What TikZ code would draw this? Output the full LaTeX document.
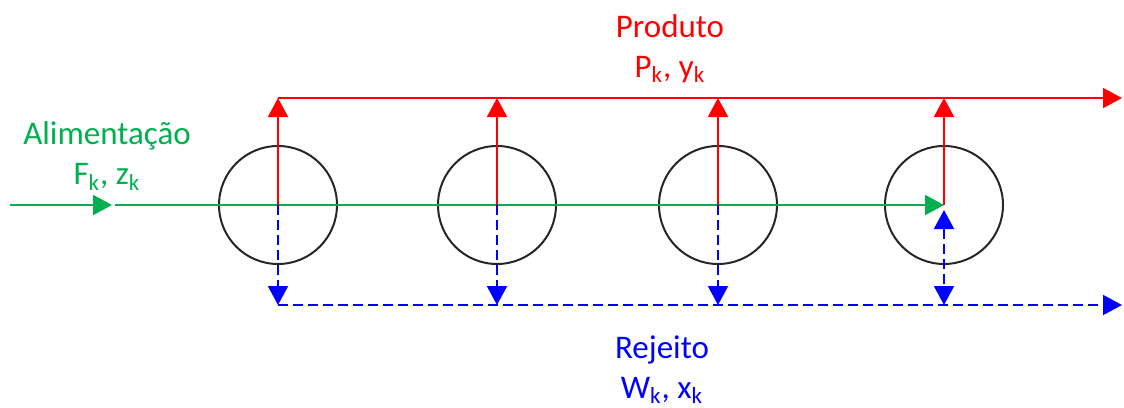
\documentclass[tikz,border=0pt]{standalone}
\usepackage{fontspec}
\setmainfont{Carlito}
\usetikzlibrary{arrows.meta,positioning}
\definecolor{prodred}{RGB}{255,0,0}
\definecolor{feedgreen}{RGB}{0,176,80}
\definecolor{rejblue}{RGB}{0,0,255}
\definecolor{vesselgray}{RGB}{38,38,38}

\begin{document}
\begin{tikzpicture}[x=0.5pt,y=-0.5pt,
    vessel/.style={draw=vesselgray,line width=1pt,circle,minimum size=59pt,inner sep=0pt},
    tip/.style={-{Triangle[length=9.5pt,width=10pt]}},
    twotip/.style={{Triangle[length=9.5pt,width=10pt]}-{Triangle[length=9.5pt,width=10pt]}},
    prodline/.style={prodred,line width=1pt},
    feedline/.style={feedgreen,line width=1pt},
    rejline/.style={rejblue,line width=1pt,dash pattern=on 5pt off 2.5pt},
    lbl/.style={font=\fontsize{16.5}{20}\selectfont,align=center}]
  \useasboundingbox (0,0) rectangle (1124,407);
  % vessels
  \node[vessel] (c1) at (278,205) {};
  \node[vessel] (c2) at (497,205) {};
  \node[vessel] (c3) at (718,205) {};
  \node[vessel] (c4) at (944,205) {};
  % product header and reject header
  \coordinate (p1) at (278,98);
  \coordinate (p2) at (497,98);
  \coordinate (p3) at (718,98);
  \coordinate (p4) at (944,98);
  \coordinate (pend) at (1122,98);
  \coordinate (w1) at (278,305);
  \coordinate (w2) at (497,305);
  \coordinate (w3) at (718,305);
  \coordinate (w4) at (944,305);
  \coordinate (wend) at (1122,305);
  \coordinate (c4s) at (944,210);
  % feed
  \coordinate (fin) at (10,205);
  \coordinate (fmid) at (112,205);
  \coordinate (fout) at (115,205);
  \draw[feedline,tip] (fin) -- (fmid);
  \draw[feedline,tip] (fout) -- (c4.center);
  % product
  \draw[prodline,tip] (c1.center) -- (p1);
  \draw[prodline,tip] (c2.center) -- (p2);
  \draw[prodline,tip] (c3.center) -- (p3);
  \draw[prodline,tip] (c4.center) -- (p4);
  \draw[prodline,tip] (p1) -- (pend);
  % reject
  \draw[rejline,tip] (c1.center) -- (w1);
  \draw[rejline,tip] (c2.center) -- (w2);
  \draw[rejline,tip] (c3.center) -- (w3);
  \draw[rejline,twotip] (c4s) -- (w4);
  \draw[rejline,tip] (w1) -- (wend);
  % labels
  \node[lbl,text=feedgreen] (feed) at (107,156) {Alimentação\\F\textsubscript{k}, z\textsubscript{k}};
  \node[lbl,text=prodred] (prod) at (670,49) {Produto\\P\textsubscript{k}, y\textsubscript{k}};
  \node[lbl,text=rejblue] (rej) at (662,370) {Rejeito\\W\textsubscript{k}, x\textsubscript{k}};
\end{tikzpicture}
\end{document}
